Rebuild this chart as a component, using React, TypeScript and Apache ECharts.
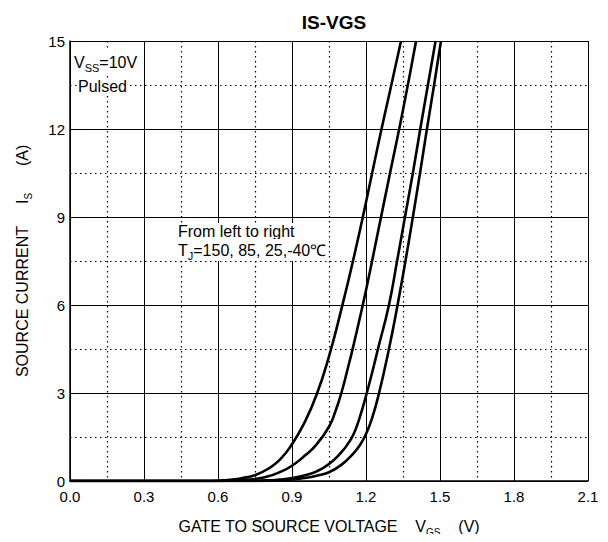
import React, { useEffect, useRef } from "react";
import * as echarts from "echarts";

// Gate-to-source voltage (V) vs source current (A), one curve per junction temperature
const curve150: [number, number][] = [
  [0, 0], [0.55, 0], [0.6, 0.01], [0.65, 0.04], [0.7, 0.1], [0.75, 0.2], [0.8, 0.4],
  [0.85, 0.72], [0.9, 1.25], [0.95, 1.98], [1.0, 2.95], [1.05, 4.25], [1.1, 5.85],
  [1.15, 7.6], [1.2, 9.5], [1.25, 11.5], [1.3, 13.4], [1.342, 15],
];
const curve85: [number, number][] = [
  [0, 0], [0.6, 0], [0.65, 0.01], [0.7, 0.03], [0.75, 0.07], [0.8, 0.15], [0.85, 0.3],
  [0.9, 0.52], [0.95, 0.85], [1.0, 1.25], [1.05, 1.85], [1.075, 2.35], [1.1, 3.0],
  [1.125, 3.8], [1.15, 4.65], [1.2, 6.5], [1.25, 8.55], [1.3, 10.6], [1.35, 12.65], [1.403, 15],
];
const curve25: [number, number][] = [
  [0, 0], [0.7, 0], [0.8, 0.02], [0.85, 0.05], [0.9, 0.1], [0.95, 0.19], [1.0, 0.33],
  [1.05, 0.58], [1.1, 0.98], [1.125, 1.25], [1.15, 1.6], [1.175, 2.18], [1.2, 2.9],
  [1.225, 3.7], [1.25, 4.55], [1.293, 6], [1.326, 7.5], [1.358, 9], [1.39, 10.5],
  [1.42, 12], [1.451, 13.5], [1.482, 15],
];
const curveM40: [number, number][] = [
  [0, 0], [0.75, 0], [0.85, 0.02], [0.9, 0.05], [0.95, 0.1], [1.0, 0.18], [1.05, 0.3],
  [1.1, 0.55], [1.15, 0.95], [1.175, 1.22], [1.2, 1.6], [1.225, 2.15], [1.253, 3],
  [1.293, 4.5], [1.328, 6], [1.36, 7.5], [1.39, 9], [1.419, 10.5], [1.447, 12],
  [1.476, 13.5], [1.504, 15],
];

const seriesNames = ["150℃", "85℃", "25℃", "-40℃"];
const seriesData = [curve150, curve85, curve25, curveM40];

const xMin = 0, xMax = 2.1, xInterval = 0.3;
const yMin = 0, yMax = 15, yInterval = 3;

const FONT = "'Liberation Sans', Arial, sans-serif";

export default function App() {
  const ref = useRef<HTMLDivElement>(null);
  useEffect(() => {
    const chart = echarts.init(ref.current!, null, { renderer: "svg" });
    const subStyle = { fontSize: 10, lineHeight: 10, verticalAlign: "bottom", fontFamily: FONT, color: "#000" };
    const annSub = { fontSize: 11, lineHeight: 11, verticalAlign: "bottom", fontFamily: FONT, fill: "#000" };
    chart.setOption({
      animation: false,
      textStyle: { fontFamily: FONT },
      title: {
        text: "IS-VGS",
        left: 329,
        top: 8,
        textAlign: "center",
        textStyle: { fontSize: 19, fontWeight: "bold", color: "#000", fontFamily: FONT },
      },
      grid: { left: 70, right: 20, top: 41, bottom: 53, containLabel: false },
      xAxis: {
        type: "value",
        min: xMin,
        max: xMax,
        interval: xInterval,
        axisLine: { show: true, lineStyle: { color: "#000", width: 1.5 } },
        axisTick: { show: false },
        axisLabel: {
          color: "#000",
          fontSize: 15,
          margin: 8,
          fontFamily: FONT,
          formatter: (v: number) => v.toFixed(1),
        },
        splitLine: { show: true, lineStyle: { color: "#000", width: 1 } },
        minorTick: { show: false, splitNumber: 2 },
        minorSplitLine: { show: true, lineStyle: { color: "#000", width: 1.2, type: [1.5, 3.5] } },
        name: "GATE TO SOURCE VOLTAGE    V{sub|GS}    (V)",
        nameLocation: "middle",
        nameGap: 34,
        nameTextStyle: {
          color: "#000",
          fontSize: 16,
          lineHeight: 22,
          fontFamily: FONT,
          rich: { sub: subStyle },
        },
      },
      yAxis: {
        type: "value",
        min: yMin,
        max: yMax,
        interval: yInterval,
        axisLine: { show: true, lineStyle: { color: "#000", width: 1.5 } },
        axisTick: { show: false },
        axisLabel: { color: "#000", fontSize: 15, margin: 5, fontFamily: FONT },
        splitLine: { show: true, lineStyle: { color: "#000", width: 1 } },
        minorTick: { show: false, splitNumber: 2 },
        minorSplitLine: { show: true, lineStyle: { color: "#000", width: 1.2, type: [1.5, 3.5] } },
        name: "SOURCE CURRENT     I{sub|S}      (A)",
        nameLocation: "middle",
        nameGap: 37,
        nameTextStyle: {
          color: "#000",
          fontSize: 16,
          lineHeight: 22,
          fontFamily: FONT,
          rich: { sub: subStyle },
        },
      },
      series: seriesData.map((d, i) => ({
        name: seriesNames[i],
        type: "line",
        data: d,
        showSymbol: false,
        smooth: 0.5,
        clip: true,
        lineStyle: { color: "#000", width: 2.6 },
        itemStyle: { color: "#000" },
        z: 5,
      })),
      graphic: [
        {
          type: "text",
          left: 74,
          top: 51,
          z: 10,
          style: {
            text: "V{sub|SS}=10V",
            fontSize: 16,
            lineHeight: 22,
            fontFamily: FONT,
            fill: "#000",
            backgroundColor: "#fff",
            rich: { sub: annSub },
          },
        },
        {
          type: "text",
          left: 77,
          top: 78,
          z: 10,
          style: {
            text: "Pulsed",
            fontSize: 16,
            fontFamily: FONT,
            fill: "#000",
            backgroundColor: "#fff",
            padding: [0, 1, 0, 1],
          },
        },
        {
          type: "text",
          left: 178,
          top: 223,
          z: 10,
          style: {
            text: "From left to right",
            fontSize: 16,
            fontFamily: FONT,
            fill: "#000",
            backgroundColor: "#fff",
          },
        },
        {
          type: "text",
          left: 178,
          top: 239,
          z: 10,
          style: {
            text: "T{sub|J}=150, 85, 25,-40℃",
            fontSize: 16,
            lineHeight: 22,
            fontFamily: FONT,
            fill: "#000",
            backgroundColor: "#fff",
            rich: { sub: annSub },
          },
        },
      ],
    });
    return () => chart.dispose();
  }, []);
  return <div ref={ref} style={{ width: 608, height: 542, margin: -8 }} />;
}
